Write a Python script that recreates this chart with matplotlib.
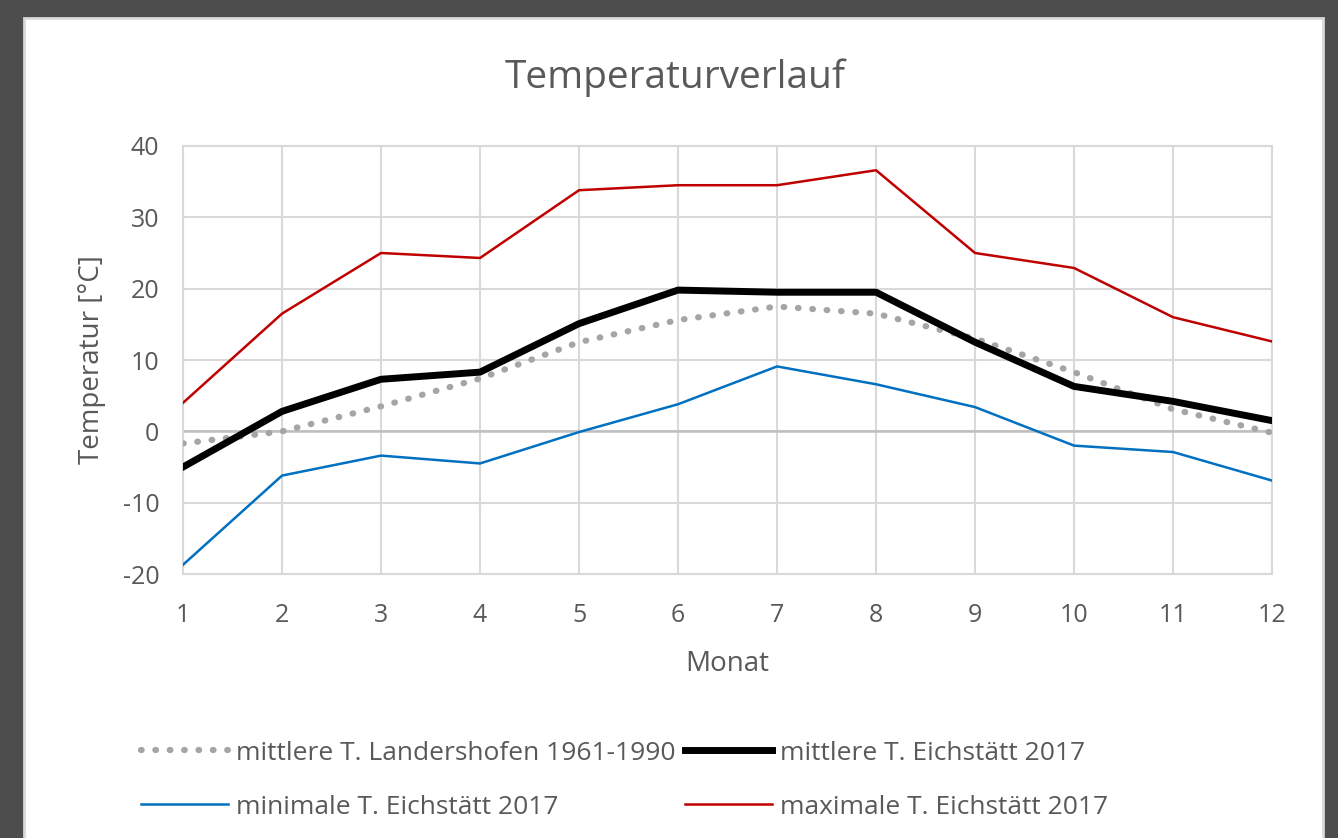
import matplotlib
matplotlib.use('Agg')
import matplotlib.pyplot as plt
from matplotlib.patches import Rectangle

# Daten (Monatswerte)
monate = list(range(1, 13))
mittel_1961_1990 = [-1.7, 0.0, 3.5, 7.4, 12.5, 15.6, 17.5, 16.5, 13.0, 8.3, 3.1, -0.2]
mittel_2017 = [-5.0, 2.8, 7.3, 8.3, 15.1, 19.8, 19.5, 19.5, 12.5, 6.3, 4.2, 1.5]
min_2017 = [-18.7, -6.2, -3.4, -4.5, -0.1, 3.8, 9.1, 6.6, 3.4, -2.0, -2.9, -6.9]
max_2017 = [4.0, 16.5, 25.0, 24.3, 33.8, 34.5, 34.5, 36.6, 25.0, 22.9, 16.0, 12.6]

plt.rcParams['font.family'] = ['Open Sans', 'DejaVu Sans']
plt.rcParams['axes.unicode_minus'] = False
txt = '#595959'

fig = plt.figure(figsize=(13.38, 8.38), dpi=100)
fig.patch.set_facecolor('#4d4d4d')
fig.add_artist(Rectangle((0.0179, -0.01), 0.9709, 0.9885, transform=fig.transFigure,
                         facecolor='white', edgecolor='#d9d9d9', linewidth=2, zorder=0))

ax = fig.add_axes([0.1368, 0.315, 0.8139, 0.5108])
ax.set_facecolor('white')

ax.plot(monate, mittel_1961_1990, color='#a5a5a5', linewidth=4.5, linestyle=(0, (0.1, 2.2)),
        dash_capstyle='round', label='mittlere T. Landershofen 1961-1990', zorder=3)
ax.plot(monate, min_2017, color='#0070c0', linewidth=1.8, label='minimale T. Eichstätt 2017', zorder=3)
ax.plot(monate, mittel_2017, color='black', linewidth=5, label='mittlere T. Eichstätt 2017', zorder=4)
ax.plot(monate, max_2017, color='#c00000', linewidth=1.8, label='maximale T. Eichstätt 2017', zorder=3)

ax.set_xlim(1, 12)
ax.set_ylim(-20, 40)
ax.set_xticks(monate)
ax.set_yticks(range(-20, 41, 10))
ax.grid(True, color='#d9d9d9', linewidth=1.5)
ax.axhline(0, color='#bfbfbf', linewidth=1.8, zorder=2)
for s in ax.spines.values():
    s.set_color('#d9d9d9')
    s.set_linewidth(1.5)
ax.tick_params(length=0, labelsize=18, colors=txt)
ax.tick_params(axis='x', pad=21)
ax.tick_params(axis='y', pad=17)

ax.set_xlabel('Monat', fontsize=20, color=txt, labelpad=16)
ax.set_ylabel('Temperatur [°C]', fontsize=20, color=txt, labelpad=12)
fig.text(0.5045, 0.907, 'Temperaturverlauf', ha='center', va='center', fontsize=28, color=txt)

handles, labels = ax.get_legend_handles_labels()
fig.legend(handles, labels, ncol=2, loc='center', bbox_to_anchor=(0.467, 0.069),
           frameon=False, fontsize=19, labelcolor=txt, handlelength=3.3,
           handletextpad=0.3, columnspacing=0.35, labelspacing=1.1)

fig.savefig('out.png', dpi=100, facecolor=fig.get_facecolor())
